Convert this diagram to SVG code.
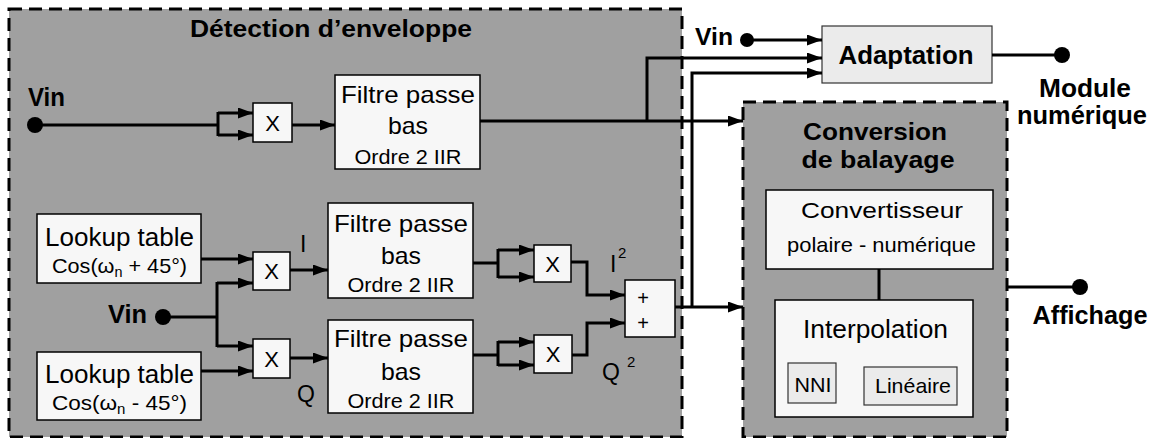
<svg xmlns="http://www.w3.org/2000/svg" width="1162" height="438" viewBox="0 0 1162 438">
<defs>
<marker id="arr" markerUnits="userSpaceOnUse" markerWidth="16" markerHeight="12" refX="15" refY="5.5" orient="auto"><path d="M0,0 L15,5.5 L0,11 z" fill="#000"/></marker>
<style>
text{font-family:"Liberation Sans",Arial,sans-serif;fill:#000}
.b{font-weight:bold}
.m{text-anchor:middle}
.grp{fill:#a0a0a0;stroke:#000;stroke-width:3;stroke-dasharray:13 7}
.wb{fill:#f7f7f7;stroke:#000;stroke-width:1.5}
.lb{fill:#ebebeb;stroke:#333;stroke-width:1.2}
.ln{fill:none;stroke:#000;stroke-width:3}
.ar{fill:none;stroke:#000;stroke-width:3;marker-end:url(#arr)}
.dot{fill:#000}
</style>
</defs>

<g id="detection">
<rect class="grp" x="9" y="9" width="673" height="428"/>
<text class="b" x="190" y="37" font-size="24" textLength="282" lengthAdjust="spacingAndGlyphs">Détection d’enveloppe</text>
</g>

<g id="conversion">
<rect class="grp" x="743" y="102" width="264" height="335"/>
<text class="b m" x="875" y="140" font-size="24" textLength="144" lengthAdjust="spacingAndGlyphs">Conversion</text>
<text class="b m" x="878" y="168" font-size="24" textLength="153" lengthAdjust="spacingAndGlyphs">de balayage</text>
</g>

<g id="vin1">
<text class="b" x="28" y="106" font-size="25" textLength="37" lengthAdjust="spacingAndGlyphs">Vin</text>
<circle class="dot" cx="35" cy="125" r="8"/>
</g>
<g id="vin2">
<text class="b" x="695" y="45" font-size="24" textLength="38" lengthAdjust="spacingAndGlyphs">Vin</text>
<circle class="dot" cx="747" cy="40" r="7"/>
</g>
<g id="vin3">
<text class="b" x="108" y="323" font-size="25" textLength="39" lengthAdjust="spacingAndGlyphs">Vin</text>
<circle class="dot" cx="163" cy="317" r="8"/>
</g>

<g id="mult1"><rect class="wb" x="253" y="103" width="39" height="39"/><text class="m" x="272.5" y="131" font-size="22">X</text></g>
<g id="mult2"><rect class="wb" x="253" y="252" width="37" height="38"/><text class="m" x="271.5" y="279" font-size="22">X</text></g>
<g id="mult3"><rect class="wb" x="253" y="339" width="37" height="39"/><text class="m" x="271.5" y="367" font-size="22">X</text></g>
<g id="mult4"><rect class="wb" x="534" y="245" width="37" height="37"/><text class="m" x="552.5" y="272" font-size="22">X</text></g>
<g id="mult5"><rect class="wb" x="534" y="335" width="38" height="38"/><text class="m" x="553" y="362" font-size="22">X</text></g>

<g id="filtre1">
<rect class="wb" x="335" y="75" width="145" height="94"/>
<text class="m" x="408" y="103" font-size="24" textLength="134" lengthAdjust="spacingAndGlyphs">Filtre passe</text>
<text class="m" x="408" y="134" font-size="24" textLength="40" lengthAdjust="spacingAndGlyphs">bas</text>
<text class="m" x="408" y="164" font-size="21" textLength="107" lengthAdjust="spacingAndGlyphs">Ordre 2 IIR</text>
</g>
<g id="filtre2">
<rect class="wb" x="328" y="203" width="145" height="95"/>
<text class="m" x="401" y="232" font-size="24" textLength="134" lengthAdjust="spacingAndGlyphs">Filtre passe</text>
<text class="m" x="401" y="264" font-size="24" textLength="40" lengthAdjust="spacingAndGlyphs">bas</text>
<text class="m" x="401" y="292" font-size="21" textLength="107" lengthAdjust="spacingAndGlyphs">Ordre 2 IIR</text>
</g>
<g id="filtre3">
<rect class="wb" x="328" y="320" width="145" height="93"/>
<text class="m" x="401" y="347" font-size="24" textLength="134" lengthAdjust="spacingAndGlyphs">Filtre passe</text>
<text class="m" x="401" y="380" font-size="24" textLength="40" lengthAdjust="spacingAndGlyphs">bas</text>
<text class="m" x="401" y="408" font-size="21" textLength="107" lengthAdjust="spacingAndGlyphs">Ordre 2 IIR</text>
</g>

<g id="lookup1">
<rect class="wb" x="37" y="214" width="164" height="69"/>
<text class="m" x="119.5" y="246" font-size="25" textLength="149" lengthAdjust="spacingAndGlyphs">Lookup table</text>
<text class="m" x="119.5" y="273" font-size="21" textLength="135" lengthAdjust="spacingAndGlyphs">Cos(ω<tspan font-size="14" dy="4">n</tspan><tspan dy="-4"> + 45°)</tspan></text>
</g>
<g id="lookup2">
<rect class="wb" x="37" y="352" width="164" height="68"/>
<text class="m" x="119.5" y="383" font-size="25" textLength="149" lengthAdjust="spacingAndGlyphs">Lookup table</text>
<text class="m" x="119.5" y="410" font-size="21" textLength="135" lengthAdjust="spacingAndGlyphs">Cos(ω<tspan font-size="14" dy="4">n</tspan><tspan dy="-4"> - 45°)</tspan></text>
</g>

<g id="somme">
<rect class="wb" x="625" y="280" width="50" height="57"/>
<text class="m" x="643" y="305" font-size="20">+</text>
<text class="m" x="643" y="330" font-size="20">+</text>
</g>

<g id="labels">
<text x="300" y="252" font-size="23">I</text>
<text x="297" y="402" font-size="23">Q</text>
<text x="610" y="272" font-size="23">I</text>
<text x="618" y="258" font-size="15">2</text>
<text x="602" y="380" font-size="23">Q</text>
<text x="627" y="367" font-size="15">2</text>
</g>

<g id="adaptation">
<rect class="lb" x="822" y="26" width="170" height="57"/>
<text class="b m" x="906" y="64" font-size="25" textLength="135" lengthAdjust="spacingAndGlyphs">Adaptation</text>
</g>

<g id="module">
<circle class="dot" cx="1062" cy="55" r="8"/>
<text class="b m" x="1085" y="97" font-size="25" textLength="92" lengthAdjust="spacingAndGlyphs">Module</text>
<text class="b m" x="1082" y="124" font-size="25" textLength="130" lengthAdjust="spacingAndGlyphs">numérique</text>
</g>

<g id="convertisseur">
<rect class="wb" x="766" y="190" width="227" height="79"/>
<text class="m" x="882" y="218" font-size="22" textLength="162" lengthAdjust="spacingAndGlyphs">Convertisseur</text>
<text class="m" x="881.5" y="252" font-size="21" textLength="189" lengthAdjust="spacingAndGlyphs">polaire - numérique</text>
</g>

<g id="interpolation">
<rect class="wb" x="775" y="300" width="198" height="117"/>
<text class="m" x="875.5" y="338" font-size="25" textLength="145" lengthAdjust="spacingAndGlyphs">Interpolation</text>
</g>
<g id="nni">
<rect class="lb" x="788" y="363" width="48" height="40"/>
<text class="m" x="813" y="392" font-size="21" textLength="37" lengthAdjust="spacingAndGlyphs">NNI</text>
</g>
<g id="lineaire">
<rect class="lb" x="864" y="367" width="93" height="38"/>
<text class="m" x="913" y="393" font-size="21" textLength="76" lengthAdjust="spacingAndGlyphs">Linéaire</text>
</g>

<g id="affichage">
<circle class="dot" cx="1080" cy="287" r="8"/>
<text class="b m" x="1090" y="324" font-size="25" textLength="115" lengthAdjust="spacingAndGlyphs">Affichage</text>
</g>

<g id="connectors">
<path class="ln" d="M35,125 H218 M218,112 V136"/>
<path class="ar" d="M218,113 H253"/>
<path class="ar" d="M218,135 H253"/>
<path class="ar" d="M292,125 H335"/>
<path class="ar" d="M480,121 H743"/>
<path class="ar" d="M647,121 V58 H822"/>
<path class="ar" d="M747,40 H822"/>
<path class="ar" d="M675,307 H743"/>
<path class="ar" d="M692,307 V73 H822"/>
<path class="ln" d="M992,55 H1062"/>
<path class="ar" d="M201,259 H253"/>
<path class="ln" d="M163,317 H217 M217,282 V347"/>
<path class="ar" d="M217,283 H253"/>
<path class="ar" d="M217,346 H253"/>
<path class="ar" d="M201,371 H253"/>
<path class="ar" d="M290,270 H328"/>
<path class="ar" d="M290,358 H328"/>
<path class="ln" d="M473,263 H498 M498,249 V278"/>
<path class="ar" d="M498,250 H534"/>
<path class="ar" d="M498,277 H534"/>
<path class="ln" d="M473,355 H498 M498,341 V366"/>
<path class="ar" d="M498,342 H534"/>
<path class="ar" d="M498,365 H534"/>
<path class="ar" d="M571,262 H587 V295 H625"/>
<path class="ar" d="M572,355 H587 V323 H625"/>
<path class="ln" d="M879,269 V300"/>
<path class="ln" d="M1007,287 H1080"/>
</g>
</svg>
